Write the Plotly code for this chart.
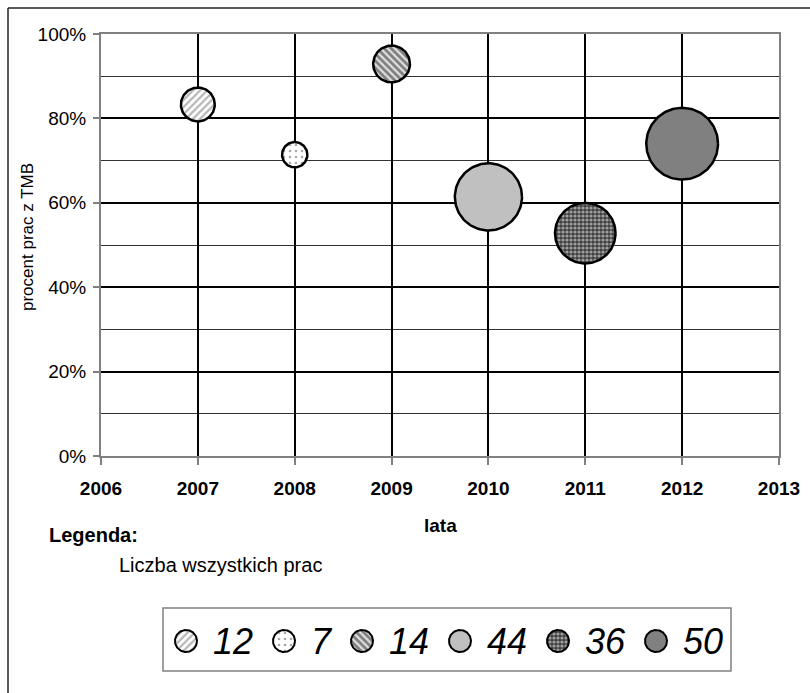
import numpy as np
import plotly.graph_objects as go

# ---- data -------------------------------------------------------------
years = [2007, 2008, 2009, 2010, 2011, 2012]
share_tmb = [0.833, 0.714, 0.929, 0.614, 0.528, 0.740]   # share of papers using TMB
total_papers = [12, 7, 14, 44, 36, 50]                     # bubble size: all papers

x_tick_vals = [2006, 2007, 2008, 2009, 2010, 2011, 2012, 2013]
y_tick_vals = [0.0, 0.2, 0.4, 0.6, 0.8, 1.0]
y_tick_text = ["0%", "20%", "40%", "60%", "80%", "100%"]
y_minor_vals = [0.1, 0.3, 0.5, 0.7, 0.9]

# ---- layout constants (pixels) -----------------------------------------
W, H = 810, 693
PLOT_L, PLOT_R, PLOT_T, PLOT_B = 101, 779, 34, 456
X_RANGE = (2006, 2013)
Y_RANGE = (0.0, 1.0)
FONT = "Arial, Liberation Sans, sans-serif"

px_per_x = (PLOT_R - PLOT_L) / (X_RANGE[1] - X_RANGE[0])
px_per_y = (PLOT_B - PLOT_T) / (Y_RANGE[1] - Y_RANGE[0])

BUBBLE_SCALE = 10.5   # outer diameter in px per sqrt(size)
OUTLINE = 2.5

# fill style of each series (pattern or solid grey)
fills = [
    dict(color="white", pattern=dict(shape="/", fgcolor="#6e6e6e", bgcolor="white", size=5, solidity=0.45)),
    dict(color="white", pattern=dict(shape=".", fgcolor="#555555", bgcolor="white", size=6, solidity=0.16)),
    dict(color="#d8d8d8", pattern=dict(shape="\\", fgcolor="#1c1c1c", bgcolor="#e0e0e0", size=5, solidity=0.55)),
    dict(color="#c0c0c0", pattern=None),
    dict(color="#404040", pattern=dict(shape=".", fgcolor="white", bgcolor="#404040", size=4, solidity=0.5)),
    dict(color="#808080", pattern=None),
]

theta = np.linspace(0, 2 * np.pi, 121)


def px(x):
    return x / W


def py(y):
    return 1 - y / H


fig = go.Figure()

# ---- bubbles -------------------------------------------------------------
for yr, val, n, f in zip(years, share_tmb, total_papers, fills):
    r = (BUBBLE_SCALE * np.sqrt(n) - OUTLINE) / 2
    xs = yr + r * np.cos(theta) / px_per_x
    ys = val + r * np.sin(theta) / px_per_y
    kw = dict(fillcolor=f["color"])
    if f["pattern"]:
        kw["fillpattern"] = f["pattern"]
    fig.add_trace(go.Scatter(
        x=xs, y=ys, mode="lines", fill="toself",
        line=dict(color="black", width=OUTLINE),
        hoverinfo="skip", showlegend=False, name=str(n), **kw))

# ---- custom legend (pixel coordinate overlay) ----------------------------
LEG_CY = 641
LEG_R = 11
LEG_FS = 36
digit_w = 20
cx = 186
leg_left = cx - LEG_R - 12
annotations = []
for n, f in zip(total_papers, fills):
    xs = cx + LEG_R * np.cos(theta)
    ys = LEG_CY + LEG_R * np.sin(theta)
    kw = dict(fillcolor=f["color"])
    if f["pattern"]:
        kw["fillpattern"] = f["pattern"]
    fig.add_trace(go.Scatter(
        x=xs, y=ys, xaxis="x2", yaxis="y2", mode="lines", fill="toself",
        line=dict(color="black", width=2), hoverinfo="skip",
        showlegend=False, **kw))
    tx = cx + 25
    annotations.append(dict(
        x=px(tx), y=py(LEG_CY), xref="paper", yref="paper",
        text=str(n), showarrow=False, xanchor="left", yanchor="middle",
        font=dict(family=FONT, size=LEG_FS, color="black", style="italic")))
    text_end = tx + len(str(n)) * digit_w
    cx = text_end + 33
leg_right = text_end + 10

# ---- texts ----------------------------------------------------------------
annotations += [
    dict(x=px((PLOT_L + PLOT_R) / 2), y=py(525), xref="paper", yref="paper",
         text="lata", showarrow=False, xanchor="center", yanchor="middle",
         font=dict(family=FONT, size=19, color="black", weight="bold")),
    dict(x=px(27), y=py(237), xref="paper", yref="paper",
         text="procent prac z TMB", textangle=-90, showarrow=False,
         xanchor="center", yanchor="middle",
         font=dict(family=FONT, size=17, color="black")),
    dict(x=px(47), y=py(535), xref="paper", yref="paper",
         text="Legenda:", showarrow=False, xanchor="left", yanchor="middle",
         font=dict(family=FONT, size=20, color="black", weight="bold")),
    dict(x=px(117), y=py(565), xref="paper", yref="paper",
         text="Liczba wszystkich prac", showarrow=False, xanchor="left", yanchor="middle",
         font=dict(family=FONT, size=20, color="black")),
]

frame = dict(color="#222222", width=1.5)
shapes = [
    # outer chart frame (top and left edges are inside the image)
    dict(type="line", xref="paper", yref="paper", x0=px(8), y0=py(8), x1=1.0, y1=py(8), line=frame),
    dict(type="line", xref="paper", yref="paper", x0=px(8), y0=py(8), x1=px(8), y1=0.0, line=frame),
    # legend box
    dict(type="rect", xref="paper", yref="paper",
         x0=px(leg_left), y0=py(671), x1=px(leg_right), y1=py(608),
         line=dict(color="#808080", width=1.5), fillcolor="white", layer="below"),
]

hidden_axis = dict(domain=[0, 1], visible=False, showline=False, showgrid=False,
                   zeroline=False, showticklabels=False, fixedrange=True)

fig.update_layout(
    width=W, height=H,
    margin=dict(l=0, r=0, t=0, b=0, autoexpand=False),
    paper_bgcolor="white", plot_bgcolor="rgba(0,0,0,0)",
    showlegend=False,
    annotations=annotations,
    shapes=shapes,
    xaxis=dict(
        domain=[px(PLOT_L), px(PLOT_R)], range=list(X_RANGE),
        tickmode="array", tickvals=x_tick_vals, ticktext=[str(v) for v in x_tick_vals],
        ticks="outside", ticklen=7, tickwidth=1.5, tickcolor="#808080",
        showgrid=True, gridcolor="black", gridwidth=2,
        showline=True, linecolor="#808080", linewidth=2, mirror=True,
        zeroline=False, fixedrange=True, ticklabelstandoff=7,
        tickfont=dict(family=FONT, size=19, color="black", weight="bold"),
    ),
    yaxis=dict(
        domain=[py(PLOT_B), py(PLOT_T)], range=list(Y_RANGE),
        tickmode="array", tickvals=y_tick_vals, ticktext=y_tick_text,
        ticks="outside", ticklen=6, tickwidth=1.5, tickcolor="#808080",
        showgrid=True, gridcolor="black", gridwidth=2,
        minor=dict(tickvals=y_minor_vals, showgrid=True, gridcolor="#333333",
                   gridwidth=1, ticks=""),
        showline=True, linecolor="#808080", linewidth=2, mirror=True,
        zeroline=False, fixedrange=True, ticklabelstandoff=3,
        tickfont=dict(family=FONT, size=19, color="black"),
    ),
    xaxis2=dict(hidden_axis, range=[0, W], anchor="y2"),
    yaxis2=dict(hidden_axis, range=[H, 0], anchor="x2"),
)

fig.write_html("out.html")
